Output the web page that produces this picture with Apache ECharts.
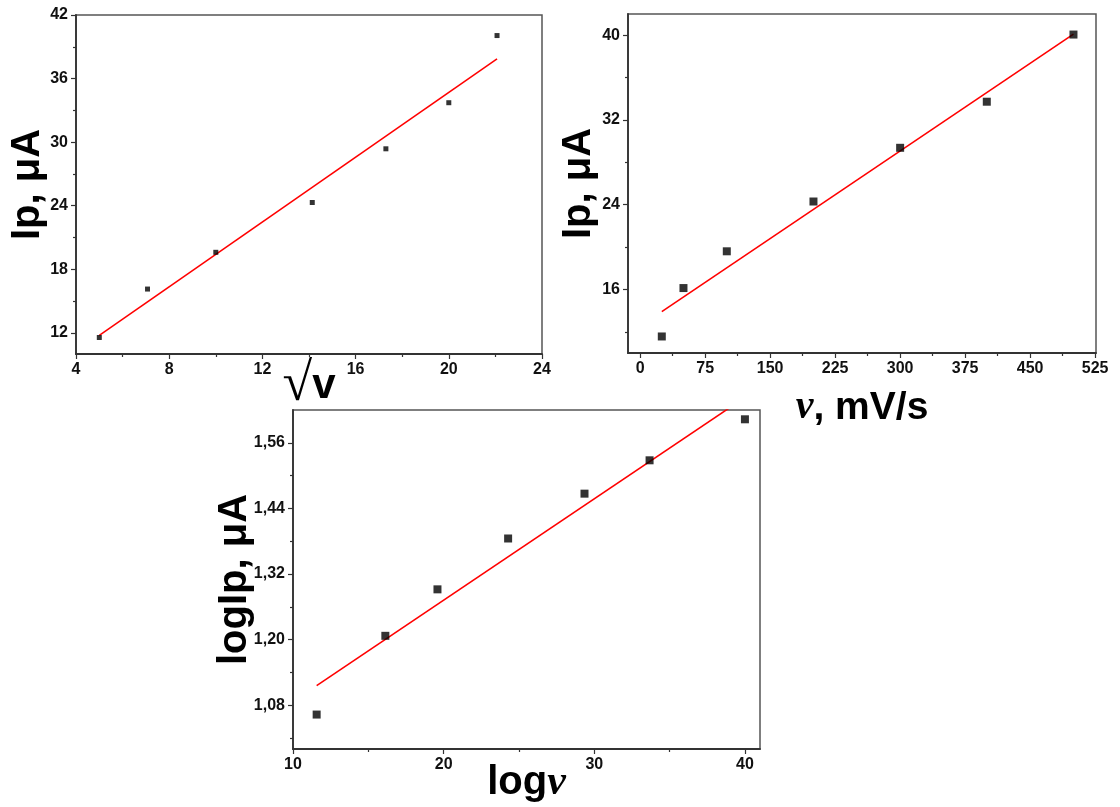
<!DOCTYPE html>
<html>
<head>
<meta charset="utf-8">
<title>Ip vs scan rate</title>
<script src="https://cdn.jsdelivr.net/npm/echarts@6/dist/echarts.min.js"></script>
<style>
  html, body { margin: 0; padding: 0; background: #fff; }
  #chart { width: 1120px; height: 807px; }
</style>
</head>
<body>
<div id="chart"></div>
<script>
// Peak current data at the scan rates used
const scanRate = [25, 50, 100, 200, 300, 400, 500];          // mV/s
const sqrtRate = [5.0, 7.07, 10.0, 14.14, 17.3, 20.0, 22.07];
const peakCurrent = [11.56, 16.13, 19.6, 24.3, 29.37, 33.72, 40.06]; // µA
const logX = [11.57, 16.13, 19.59, 24.28, 29.35, 33.67, 40.0];
const logIp = [1.063, 1.207, 1.292, 1.385, 1.467, 1.528, 1.603];

// Linear fit end points
const fitSqrtX = [5.0, 22.07];
const fitSqrtY = [11.75, 37.85];
const fitRateX = [25, 500];
const fitRateY = [13.9, 40.1];
const fitLogX = [11.57, 40.0];
const fitLogY = [1.116, 1.643];

// Tick values
const sqrtTicks = [4, 8, 12, 16, 20, 24];
const sqrtMinor = [6, 10, 14, 18, 22];
const ipTicksA = [12, 18, 24, 30, 36, 42];
const ipMinorA = [15, 21, 27, 33, 39];
const rateTicks = [0, 75, 150, 225, 300, 375, 450, 525];
const rateMinor = [37.5, 112.5, 187.5, 262.5, 337.5, 412.5, 487.5];
const ipTicksB = [16, 24, 32, 40];
const ipMinorB = [12, 20, 28, 36];
const logXTicks = [10, 20, 30, 40];
const logXMinor = [15, 25, 35];
const logYTicks = [1.08, 1.20, 1.32, 1.44, 1.56];
const logYMinor = [1.02, 1.14, 1.26, 1.38, 1.50];

const SANS = 'Liberation Sans, Arial, Helvetica, sans-serif';
const SERIF = 'Liberation Serif, Times New Roman, serif';
const AXIS_COLOR = '#333';

const tickLabel = {
  fontFamily: SANS, fontWeight: 'bold', fontSize: 16, color: '#111', margin: 8
};

function mainAxis(dim, gridIndex, min, max, ticks, fmt, name, nameGap, rich) {
  return {
    type: 'value', gridIndex, min, max,
    position: dim === 'x' ? 'bottom' : 'left',
    axisLine: { show: true, onZero: false, lineStyle: { color: AXIS_COLOR, width: 1.8 } },
    axisTick: { show: true, inside: false, length: 5, customValues: ticks,
                lineStyle: { color: AXIS_COLOR, width: 1.2 } },
    axisLabel: Object.assign({ show: true, customValues: ticks, showMinLabel: true, showMaxLabel: true,
                               formatter: fmt || (v => String(v)) }, tickLabel),
    splitLine: { show: false },
    name: name, nameLocation: 'middle', nameGap: nameGap, nameMoveOverlap: false,
    nameTextStyle: { fontFamily: SANS, fontWeight: 'bold', fontSize: 40, color: '#000', rich: rich || {} }
  };
}

function minorAxis(dim, gridIndex, min, max, ticks) {
  return {
    type: 'value', gridIndex, min, max,
    position: dim === 'x' ? 'bottom' : 'left',
    axisLine: { show: false, onZero: false },
    axisTick: { show: true, inside: false, length: 3, customValues: ticks,
                lineStyle: { color: AXIS_COLOR, width: 1.2 } },
    axisLabel: { show: false },
    splitLine: { show: false }
  };
}

const commaFmt = v => v.toFixed(2).replace('.', ',');

const xAxes = [
  mainAxis('x', 0, 4, 24, sqrtTicks, null, '{r|√}{b|v}', 5, {
    r: { fontFamily: SERIF, fontSize: 54, fontWeight: 'normal', color: '#000' },
    b: { fontFamily: SANS, fontSize: 42, fontWeight: 'bold', color: '#000' }
  }),
  mainAxis('x', 1, -14, 526, rateTicks, null, '{i|ν}{b|, mV/s}', 35, {
    i: { fontFamily: SERIF, fontSize: 40, fontStyle: 'italic', fontWeight: 'bold', color: '#000' },
    b: { fontFamily: SANS, fontSize: 39, fontWeight: 'bold', color: '#000' }
  }),
  mainAxis('x', 2, 10, 41, logXTicks, null, '{b|log}{i|ν}', 13, {
    i: { fontFamily: SERIF, fontSize: 42, fontStyle: 'italic', fontWeight: 'bold', color: '#000' },
    b: { fontFamily: SANS, fontSize: 40, fontWeight: 'bold', color: '#000' }
  }),
  minorAxis('x', 0, 4, 24, sqrtMinor),
  minorAxis('x', 1, -14, 526, rateMinor),
  minorAxis('x', 2, 10, 41, logXMinor)
];

const yAxes = [
  mainAxis('y', 0, 10, 42, ipTicksA, null, 'Ip, μA', 28),
  mainAxis('y', 1, 10, 42, ipTicksB, null, 'Ip, μA', 29),
  mainAxis('y', 2, 1.0, 1.62, logYTicks, commaFmt, 'logIp, μA', 38),
  minorAxis('y', 0, 10, 42, ipMinorA),
  minorAxis('y', 1, 10, 42, ipMinorB),
  minorAxis('y', 2, 1.0, 1.62, logYMinor)
];

function pairs(xs, ys) { return xs.map((x, i) => [x, ys[i]]); }

function points(idx, xs, ys, size) {
  return {
    type: 'scatter', xAxisIndex: idx, yAxisIndex: idx,
    data: pairs(xs, ys), symbol: 'rect', symbolSize: size,
    itemStyle: { color: '#000' }, z: 3, silent: true
  };
}
function fitLine(idx, xs, ys) {
  return {
    type: 'line', xAxisIndex: idx, yAxisIndex: idx,
    data: pairs(xs, ys), showSymbol: false, symbol: 'none', clip: true,
    lineStyle: { color: '#ff0000', width: 1.6 }, z: 2, silent: true
  };
}

const frame = { show: true, borderColor: '#555', borderWidth: 1.5, backgroundColor: 'transparent',
                containLabel: false, outerBoundsMode: 'none' };

const option = {
  backgroundColor: '#fff',
  animation: false,
  grid: [
    Object.assign({ left: 76, top: 15, width: 466, height: 339 }, frame),
    Object.assign({ left: 628, top: 14, width: 468, height: 339 }, frame),
    Object.assign({ left: 293, top: 410, width: 467, height: 339 }, frame)
  ],
  xAxis: xAxes,
  yAxis: yAxes,
  series: [
    fitLine(0, fitSqrtX, fitSqrtY),
    points(0, sqrtRate, peakCurrent, 5),
    fitLine(1, fitRateX, fitRateY),
    points(1, scanRate, peakCurrent, 8),
    fitLine(2, fitLogX, fitLogY),
    points(2, logX, logIp, 8)
  ]
};

const chart = echarts.init(document.getElementById('chart'), null, { renderer: 'canvas' });
chart.setOption(option);
</script>
</body>
</html>
